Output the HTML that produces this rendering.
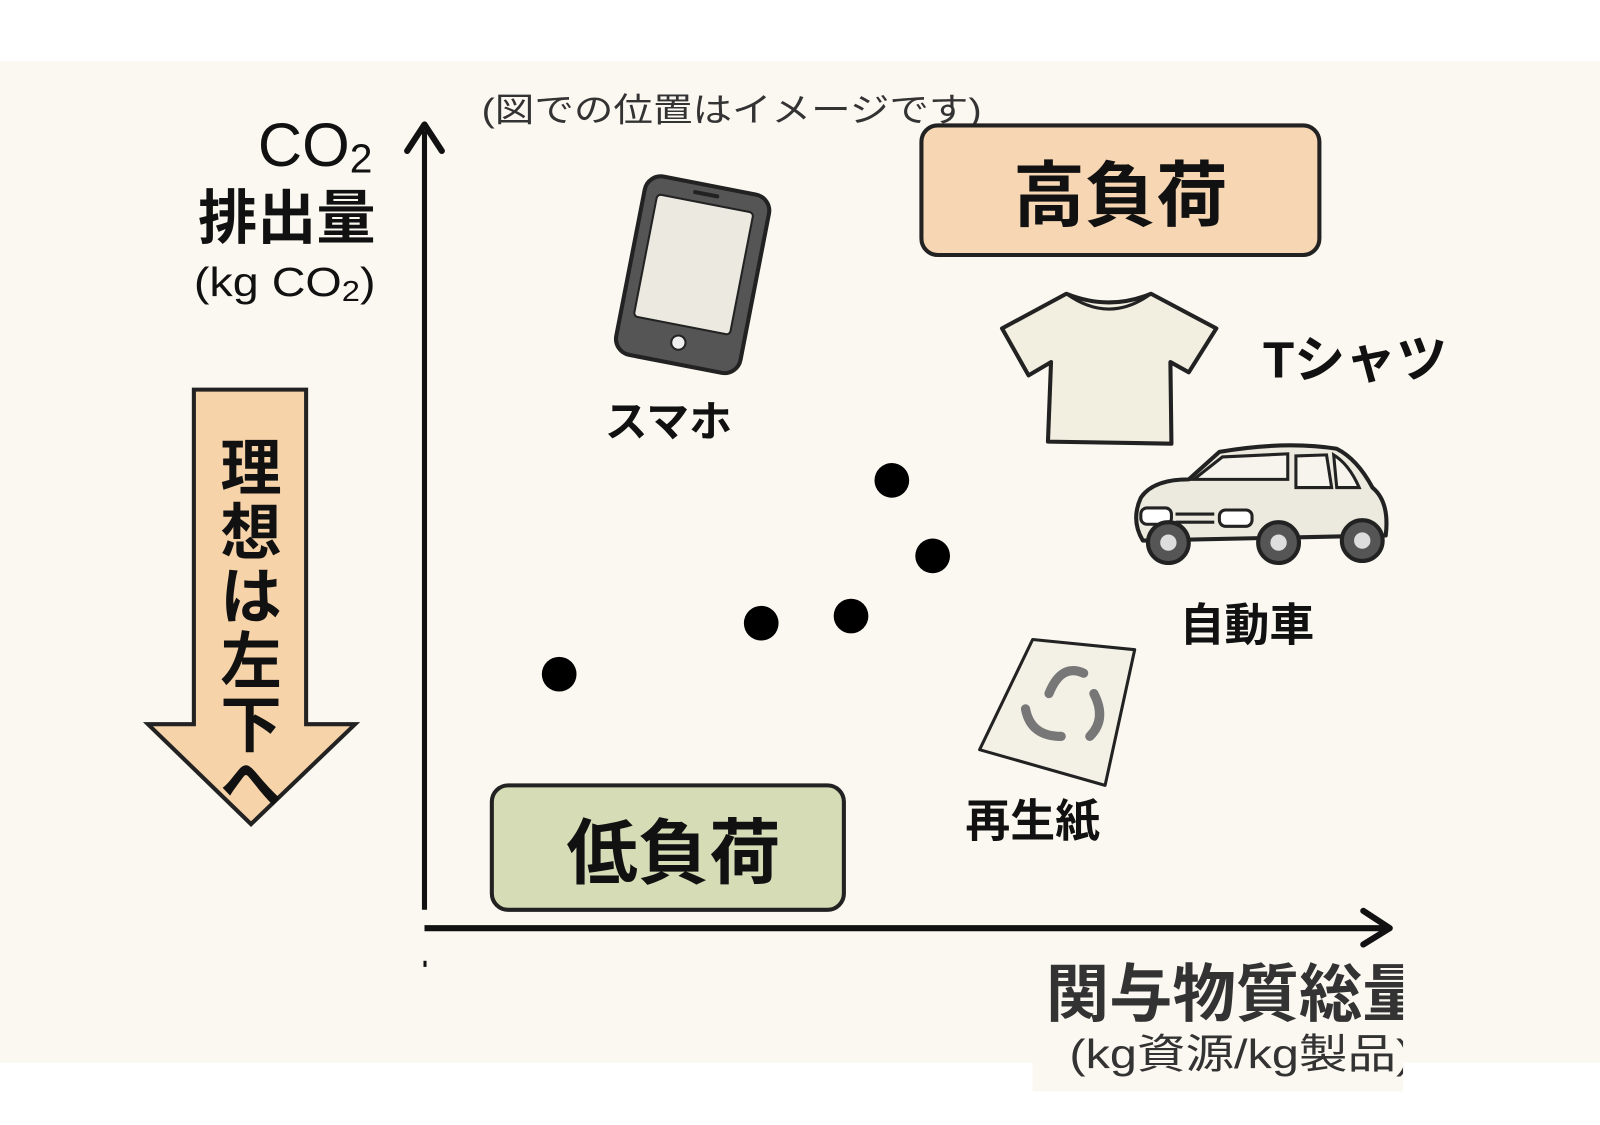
<!DOCTYPE html>
<html><head><meta charset="utf-8"><style>
html,body{margin:0;padding:0;background:#fff;}
svg{display:block;}
text{font-family:"Liberation Sans","Noto Sans CJK JP",sans-serif;}
</style></head><body>
<svg width="1600" height="1125" viewBox="0 0 1568 1103" preserveAspectRatio="none" xmlns="http://www.w3.org/2000/svg">
<rect x="0" y="0" width="1568" height="1103" fill="#fff"/>
<rect x="0" y="60" width="1568" height="982" fill="#fbf8f1"/>
<rect x="1012" y="1040" width="363" height="30" fill="#fbf8f1"/>
<!-- axes -->
<line x1="416" y1="128" x2="416" y2="892" stroke="#111" stroke-width="5"/>
<polyline points="399,148 416,122 433,148" fill="none" stroke="#111" stroke-width="6" stroke-linejoin="round" stroke-linecap="round"/>
<line x1="416" y1="910" x2="1360" y2="910" stroke="#111" stroke-width="6"/>
<polyline points="1336,893 1362,910 1336,926" fill="none" stroke="#111" stroke-width="6" stroke-linejoin="round" stroke-linecap="round"/>
<rect x="415" y="942" width="3" height="6" fill="#111"/>
<text x="472" y="119" font-size="33" fill="#333" textLength="490" lengthAdjust="spacingAndGlyphs">(図での位置はイメージです)</text>
<!-- y label -->
<text x="365" y="163" font-size="60" text-anchor="end" fill="#111">CO<tspan font-size="40" dy="6">2</tspan></text>
<text x="368" y="234" font-size="58" text-anchor="end" font-weight="bold" fill="#111">排出量</text>
<text x="190" y="290" font-size="40" fill="#111" textLength="178" lengthAdjust="spacingAndGlyphs">(kg CO<tspan font-size="28" dy="5">2</tspan><tspan dy="-5">)</tspan></text>
<!-- down arrow -->
<polygon points="190,382 300,382 300,710 348,710 246,808 145,710 190,710" fill="#f6d3a8" stroke="#222" stroke-width="4" stroke-linejoin="miter"/>
<g font-size="60" font-weight="bold" text-anchor="middle" fill="#111">
<text x="246" y="480">理</text><text x="246" y="543">想</text><text x="246" y="606">は</text><text x="246" y="669">左</text><text x="246" y="732">下</text><text x="246" y="790">へ</text>
</g>
<!-- boxes -->
<rect x="903" y="123" width="390" height="127" rx="16" fill="#f6d6b3" stroke="#222" stroke-width="4"/>
<text x="1098" y="216" font-size="70" font-weight="bold" text-anchor="middle" fill="#111">高負荷</text>
<rect x="482" y="770" width="345" height="122" rx="16" fill="#d5dcb6" stroke="#222" stroke-width="4"/>
<text x="660" y="861" font-size="70" font-weight="bold" text-anchor="middle" fill="#111">低負荷</text>
<!-- dots -->
<g fill="#000"><circle cx="874" cy="471" r="17"/><circle cx="914" cy="545" r="17"/><circle cx="746" cy="611" r="17"/><circle cx="834" cy="604" r="17"/><circle cx="548" cy="661" r="17"/></g>
<!-- phone -->
<g transform="rotate(11 677 268)">
<rect x="617" y="180" width="124" height="178" rx="16" fill="#555" stroke="#222" stroke-width="4"/>
<rect x="630" y="198" width="96" height="122" rx="4" fill="#ece9e0" stroke="#222" stroke-width="2"/>
<rect x="664" y="187" width="26" height="4" rx="2" fill="#222"/>
<circle cx="678" cy="337" r="7" fill="#eee" stroke="#222" stroke-width="2"/>
</g>
<text x="655" y="428" font-size="42" font-weight="bold" text-anchor="middle" fill="#111">スマホ</text>
<!-- t-shirt -->
<path d="M1045,288 Q1087,305 1128,288 L1192,322 L1165,365 L1147,355 L1148,435 L1027,433 L1030,355 L1008,368 L982,322 Z" fill="#f2eee0" stroke="#222" stroke-width="4" stroke-linejoin="round"/>
<path d="M1045,288 Q1087,318 1128,288" fill="none" stroke="#222" stroke-width="3"/>
<text x="1328" y="370" font-size="50" text-anchor="middle" fill="#111" font-weight="bold">Tシャツ</text>
<!-- car -->
<path d="M1118,488 Q1130,470 1165,470 L1195,443 Q1260,432 1310,440 Q1330,450 1345,478 Q1362,492 1358,525 L1120,530 Q1108,510 1118,488 Z" fill="#ece9de" stroke="#222" stroke-width="4" stroke-linejoin="round"/>
<path d="M1170,470 L1198,448 L1262,445 L1262,470 Z M1270,447 L1300,446 L1305,478 L1270,478 Z M1307,446 Q1322,455 1332,478 L1310,478 Z" fill="#f6f4ec" stroke="#222" stroke-width="3"/>
<rect x="1118" y="498" width="30" height="16" rx="6" fill="#fff" stroke="#222" stroke-width="3"/>
<rect x="1195" y="500" width="32" height="16" rx="6" fill="#fff" stroke="#222" stroke-width="3"/>
<line x1="1152" y1="504" x2="1190" y2="504" stroke="#222" stroke-width="3"/><line x1="1152" y1="512" x2="1190" y2="512" stroke="#222" stroke-width="3"/>
<circle cx="1145" cy="532" r="20" fill="#555" stroke="#222" stroke-width="4"/><circle cx="1145" cy="532" r="8" fill="#ddd"/>
<circle cx="1253" cy="532" r="20" fill="#555" stroke="#222" stroke-width="4"/><circle cx="1253" cy="532" r="8" fill="#ddd"/>
<circle cx="1335" cy="530" r="20" fill="#555" stroke="#222" stroke-width="4"/><circle cx="1335" cy="530" r="8" fill="#ddd"/>
<text x="1222" y="628" font-size="44" font-weight="bold" text-anchor="middle" fill="#111">自動車</text>
<!-- paper -->
<polygon points="1012,627 1112,637 1083,770 960,735" fill="#f3f0e6" stroke="#222" stroke-width="3" stroke-linejoin="round"/>
<g fill="none" stroke="#777" stroke-width="9" stroke-linecap="round">
<path d="M1028,680 Q1040,650 1062,660"/><path d="M1072,680 Q1085,705 1068,722"/><path d="M1040,722 Q1010,722 1005,695"/>
</g>
<text x="1012" y="820" font-size="44" font-weight="bold" text-anchor="middle" fill="#111">再生紙</text>
<!-- x label -->
<defs><clipPath id="c"><rect x="1000" y="930" width="375" height="140"/></clipPath></defs>
<g clip-path="url(#c)">
<text x="1025" y="996" font-size="62" font-weight="bold" fill="#333">関与物質総量</text>
<text x="1048" y="1047" font-size="40" fill="#333" textLength="336" lengthAdjust="spacingAndGlyphs">(kg資源/kg製品)</text>
</g>
</svg>
</body></html>
